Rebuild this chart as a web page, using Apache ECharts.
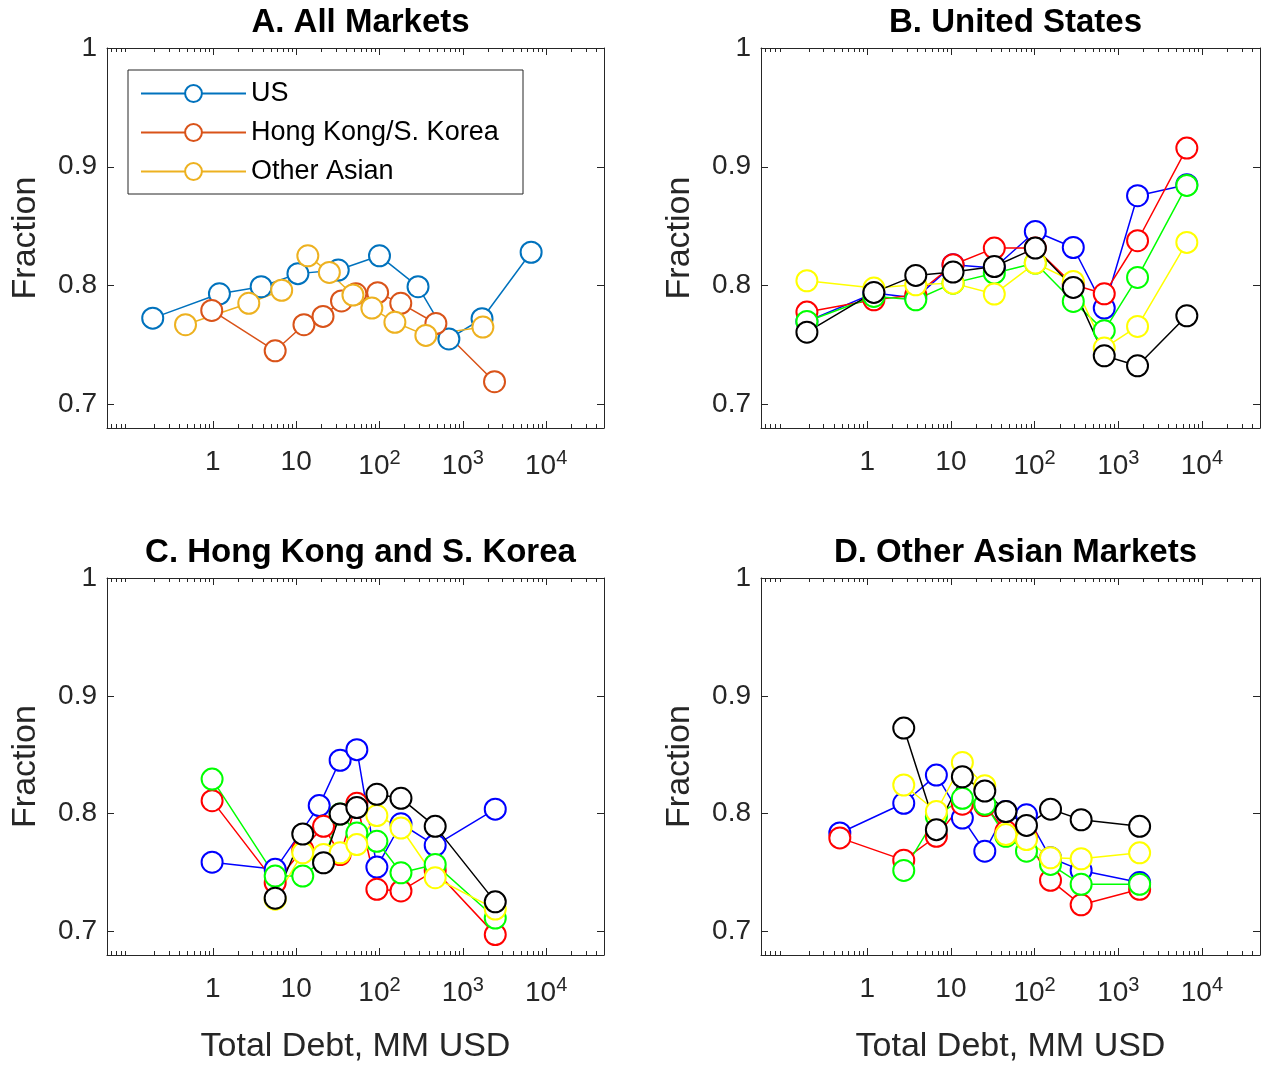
<!DOCTYPE html>
<html><head><meta charset="utf-8">
<script src="https://cdn.jsdelivr.net/npm/echarts@6/dist/echarts.min.js"></script>
<style>html,body{margin:0;padding:0;background:#fff}#c{width:1263px;height:1065px}</style>
</head><body><div id="c"></div>
<script>
// Panel A
const aUSx=[0.19,1.2,3.8,10.5,32,100,290,680,1700,6600];
const aUSy=[0.7725,0.793,0.799,0.810,0.813,0.825,0.799,0.755,0.772,0.828];
const aHKx=[0.97,5.6,12.4,21,35,52,95,180,475,2400];
const aHKy=[0.779,0.745,0.767,0.774,0.787,0.793,0.794,0.785,0.768,0.719];
const aOAx=[0.47,2.7,6.7,13.8,25,48,81,153,360,1740];
const aOAy=[0.767,0.785,0.796,0.825,0.811,0.792,0.781,0.769,0.758,0.765];
// Panel B (United States)
const bX=[0.19,1.2,3.8,10.6,33,102,290,680,1700,6600];
const bBlue=[0.7697,0.7936,0.7894,0.8175,0.8147,0.8455,0.832,0.781,0.8756,0.8849];
const bRed=[0.7776,0.788,0.792,0.8175,0.8315,0.8315,0.8006,0.793,0.8377,0.9157];
const bGreen=[0.7697,0.7908,0.788,0.802,0.8104,0.8189,0.7866,0.762,0.8068,0.8843];
const bYellow=[0.804,0.7978,0.8006,0.802,0.7928,0.8189,0.8034,0.7473,0.7655,0.8363];
const bBlack=[0.7607,0.7942,0.8085,0.8113,0.816,0.8315,0.7984,0.7408,0.7324,0.7745];
// Panel C (Hong Kong and S. Korea)
const cBlueX=[0.98,5.6,18.9,33.7,53.5,93,181,466,2450];
const cBlue=[0.7588,0.7527,0.8068,0.8453,0.8543,0.7546,0.7914,0.7731,0.8038];
const cX=[0.98,5.6,12.0,21.3,33.7,53.5,93,181,466,2450];
const cRed=[0.811,0.7414,0.7695,0.7892,0.7653,0.8088,0.7358,0.7344,0.7518,0.6973];
const cGreen=[0.8293,0.747,0.747,0.761,0.7996,0.7835,0.7765,0.7498,0.7569,0.7114];
const cX9=[5.6,12.0,21.3,33.7,53.5,93,181,466,2450];
const cYellow=[0.7274,0.7667,0.7653,0.7667,0.7737,0.7984,0.7878,0.7456,0.719];
const cBlack=[0.7282,0.7827,0.7583,0.7996,0.8052,0.8164,0.813,0.7892,0.7251];
// Panel D (Other Asian Markets)
const dX=[0.47,2.73,6.7,13.7,25.4,45.4,80,155,360,1800];
const dX9=[2.73,6.7,13.7,25.4,45.4,80,155,360,1800];
const dBlue=[0.7836,0.8088,0.8327,0.7962,0.7681,0.8018,0.799,0.7625,0.7518,0.7415];
const dRed=[0.7794,0.7605,0.7808,0.808,0.8069,0.785,0.7799,0.7434,0.7226,0.7358];
const dGreen=[0.7518,0.7976,0.813,0.808,0.7808,0.7681,0.7569,0.74,0.74];
const dYellow=[0.8243,0.8018,0.8434,0.8237,0.7822,0.778,0.7625,0.7617,0.7667];
const dBlack=[0.8726,0.7864,0.8313,0.8192,0.8018,0.79,0.8038,0.7948,0.7892];
const titles=['A. All Markets','B. United States','C. Hong Kong and S. Korea','D. Other Asian Markets'];
const yTicks=[0.7,0.8,0.9,1];
const xTicks=[1,10,100,1000,10000];

const F='"Liberation Sans", Arial, sans-serif';
const AX='#262626';
const grids=[
 {left:107,top:48,width:497,height:380},
 {left:761,top:48,width:499,height:380},
 {left:107,top:578,width:497,height:379},
 {left:761,top:578,width:499,height:379}];
const xMin=Math.pow(10,-1.27), xMax=Math.pow(10,4.694);
const xAxis=[],yAxis=[],title=[];
function fmtX(v){const e=Math.round(Math.log10(v));if(Math.abs(Math.log10(v)-e)>1e-6)return '';if(e===0)return '1';if(e===1)return '10';return '10{s|'+e+'}';}
grids.forEach((g,i)=>{
  title.push({text:titles[i],left:g.left+g.width/2,top:g.top-47,textAlign:'center',
    textStyle:{fontFamily:F,fontSize:33,fontWeight:'bold',color:'#000'}});
  const base={type:'log',logBase:10,min:xMin,max:xMax,gridIndex:i,
    axisLine:{show:true,lineStyle:{color:AX,width:1}},splitLine:{show:false}};
  xAxis.push(Object.assign({},base,{position:'bottom',
    name:i>=2?'Total Debt, MM USD':'',nameLocation:'middle',nameGap:75,
    nameTextStyle:{fontFamily:F,fontSize:34,color:'#262626'},
    axisTick:{show:true,inside:true,length:7,lineStyle:{color:AX},customValues:xTicks},
    minorTick:{show:true,splitNumber:9,length:4,lineStyle:{color:AX}},
    axisLabel:{show:true,customValues:xTicks,formatter:fmtX,margin:20,fontFamily:F,fontSize:28,color:'#262626',
      rich:{s:{fontFamily:F,fontSize:20,color:'#262626',verticalAlign:'top',padding:[0,0,16,0]}}}}));
  xAxis.push(Object.assign({},base,{position:'top',
    axisTick:{show:true,inside:true,length:7,lineStyle:{color:AX},customValues:xTicks},
    minorTick:{show:true,splitNumber:9,length:4,lineStyle:{color:AX}},
    axisLabel:{show:false}}));
  const yb={type:'value',min:0.68,max:1,gridIndex:i,splitLine:{show:false},
    axisLine:{show:true,lineStyle:{color:AX,width:1}}};
  yAxis.push(Object.assign({},yb,{position:'left',name:'Fraction',nameLocation:'middle',nameGap:64,
    nameTextStyle:{fontFamily:F,fontSize:34,color:'#262626'},
    axisTick:{show:true,inside:true,length:7,lineStyle:{color:AX},customValues:yTicks},
    axisLabel:{show:true,customValues:yTicks,formatter:v=>v===1?'1':v.toFixed(1),margin:10,fontFamily:F,fontSize:28,color:'#262626'}}));
  yAxis.push(Object.assign({},yb,{position:'right',
    axisTick:{show:true,inside:true,length:7,lineStyle:{color:AX},customValues:yTicks},
    axisLabel:{show:false}}));
});
function zip(x,y){return x.map((v,k)=>[v,y[k]]);}
function S(name,g,x,y,color){
  return {name:name,type:'line',xAxisIndex:g*2,yAxisIndex:g*2,data:zip(x,y),
    symbol:'emptyCircle',symbolSize:21,showSymbol:true,
    lineStyle:{color:color,width:1.5},itemStyle:{color:color,borderColor:color,borderWidth:1.5},
    emphasis:{disabled:true},animation:false,z:2};
}
const C=['#0000FF','#FF0000','#00FF00','#FFFF00','#000000'];
const series=[
 S('US',0,aUSx,aUSy,'#0072BD'),
 S('Hong Kong/S. Korea',0,aHKx,aHKy,'#D95319'),
 S('Other Asian',0,aOAx,aOAy,'#EDB120'),
 S('b1',1,bX,bBlue,C[0]),S('b2',1,bX,bRed,C[1]),S('b3',1,bX,bGreen,C[2]),S('b4',1,bX,bYellow,C[3]),S('b5',1,bX,bBlack,C[4]),
 S('c1',2,cBlueX,cBlue,C[0]),S('c2',2,cX,cRed,C[1]),S('c3',2,cX,cGreen,C[2]),S('c4',2,cX9,cYellow,C[3]),S('c5',2,cX9,cBlack,C[4]),
 S('d1',3,dX,dBlue,C[0]),S('d2',3,dX,dRed,C[1]),S('d3',3,dX9,dGreen,C[2]),S('d4',3,dX9,dYellow,C[3]),S('d5',3,dX9,dBlack,C[4])
];
const chart=echarts.init(document.getElementById('c'),null,{renderer:'canvas'});
chart.setOption({
  backgroundColor:'#fff',animation:false,title:title,grid:grids,xAxis:xAxis,yAxis:yAxis,series:series,
  legend:{data:['US','Hong Kong/S. Korea','Other Asian'],left:128,top:70,orient:'vertical',
    itemWidth:105,itemHeight:21,itemGap:10,padding:[9,10,8,12],
    borderColor:'#262626',borderWidth:1,backgroundColor:'#fff',
    textStyle:{fontFamily:F,fontSize:27,color:'#000',width:262,lineHeight:29},selectedMode:false}
});
</script></body></html>
